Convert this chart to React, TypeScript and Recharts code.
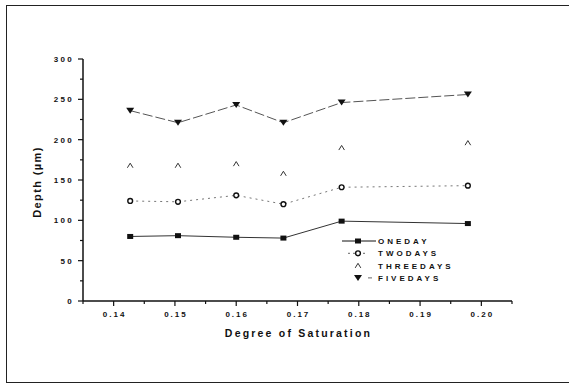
import { LineChart, Line, XAxis, YAxis } from "recharts";

// values
const saturation = [0.1427, 0.1505, 0.16, 0.1677, 0.1772, 0.1978];
const oneDay = [80, 81, 79, 78, 99, 96];
const twoDays = [124, 123, 131, 120, 141, 143];
const threeDays = [168, 168, 170, 158, 190, 196];
const fiveDays = [236, 221, 243, 221, 246, 256];

const xTicks = [0.135, 0.14, 0.145, 0.15, 0.155, 0.16, 0.165, 0.17, 0.175, 0.18, 0.185, 0.19, 0.195, 0.2, 0.205];
const yTicks = [0, 25, 50, 75, 100, 125, 150, 175, 200, 225, 250, 275, 300];

const seriesNames = ["ONEDAY", "TWODAYS", "THREEDAYS", "FIVEDAYS"];

const data = saturation.map((s, i) => ({
  s,
  oneDay: oneDay[i],
  twoDays: twoDays[i],
  threeDays: threeDays[i],
  fiveDays: fiveDays[i],
}));

const FONT = "'Liberation Sans', Arial, sans-serif";
const INK = "#111";

const Marker = ({ kind, cx, cy }: { kind: number; cx: number; cy: number }) => {
  if (kind === 0) return <rect x={cx - 3} y={cy - 2.5} width={6} height={5} fill={INK} />;
  if (kind === 1)
    return <circle cx={cx} cy={cy} r={2.4} fill="#fff" stroke={INK} strokeWidth={1.4} />;
  if (kind === 2)
    return (
      <polyline
        points={`${cx - 2.8},${cy + 2.3} ${cx},${cy - 2.3} ${cx + 2.8},${cy + 2.3}`}
        fill="none"
        stroke="#333"
        strokeWidth={1}
      />
    );
  return <polygon points={`${cx - 4},${cy - 3} ${cx + 4},${cy - 3} ${cx},${cy + 3}`} fill={INK} />;
};

const dotFor = (kind: number) => (p: any) =>
  <Marker key={`${kind}-${p.index}`} kind={kind} cx={p.cx} cy={p.cy} />;

const XTick = ({ x, y, payload }: any) => {
  const v = payload.value as number;
  const major = Math.abs(v * 100 - Math.round(v * 100)) < 1e-6;
  return (
    <g>
      <line x1={x} x2={x} y1={y} y2={y + (major ? 5 : 3)} stroke={INK} strokeWidth={1.2} />
      {major && (
        <text x={x + 1} y={y + 16} textAnchor="middle" fontSize={8} fontWeight="bold" fill={INK} fontFamily={FONT} letterSpacing={2}>
          {v.toFixed(2)}
        </text>
      )}
    </g>
  );
};

const YTick = ({ x, y, payload }: any) => {
  const v = payload.value as number;
  const major = v % 50 === 0;
  return (
    <g>
      <line x1={x - (major ? 5 : 3)} x2={x} y1={y} y2={y} stroke={INK} strokeWidth={1.2} />
      {major && (
        <text x={x - 9} y={y + 3} textAnchor="end" fontSize={8} fontWeight="bold" fill={INK} fontFamily={FONT} letterSpacing={2.3}>
          {v}
        </text>
      )}
    </g>
  );
};

const LegendBox = () => (
  <svg width={130} height={50} style={{ display: "block" }}>
    {seriesNames.map((name, i) => {
      const cy = 6 + i * 12.3;
      return (
        <g key={name}>
          {i === 0 && <line x1={2} x2={36} y1={cy} y2={cy} stroke={INK} strokeWidth={1} />}
          {i === 1 && <line x1={8} x2={28} y1={cy} y2={cy} stroke="#666" strokeWidth={1} strokeDasharray="2 3" />}
          {i === 3 && <line x1={28} x2={32} y1={cy} y2={cy} stroke="#666" strokeWidth={1} />}
          <Marker kind={i} cx={18} cy={cy} />
          <text x={38} y={cy + 3} fontSize={8} fontWeight="bold" fill={INK} fontFamily={FONT} letterSpacing={3}>
            {name}
          </text>
        </g>
      );
    })}
  </svg>
);

export default function App() {
  return (
    <div style={{ position: "fixed", left: 0, top: 0, width: 569, height: 385, overflow: "hidden", background: "#fff" }}>
      <div
        style={{
          position: "absolute",
          left: 6,
          top: 5,
          width: 620,
          height: 376,
          borderTop: "1.5px solid #222",
          borderLeft: "1.5px solid #222",
          borderBottom: "1.5px solid #222",
        }}
      />
      <div style={{ position: "absolute", left: 0, top: 0 }}>
        <LineChart width={569} height={385} data={data} margin={{ top: 59, right: 57, bottom: 0, left: 0 }}>
          <XAxis
            dataKey="s"
            type="number"
            domain={[0.135, 0.205]}
            ticks={xTicks}
            interval={0}
            height={84}
            tickSize={0}
            tickMargin={0}
            tickLine={false}
            tick={<XTick />}
            axisLine={{ stroke: INK, strokeWidth: 1.5 }}
            label={{
              content: ({ viewBox }: any) => (
                <text
                  x={viewBox.x + viewBox.width / 2 + 1}
                  y={viewBox.y + 36}
                  textAnchor="middle"
                  fontSize={10.5}
                  fontWeight="bold"
                  fill={INK}
                  fontFamily={FONT}
                  letterSpacing={2.2}
                >
                  Degree of Saturation
                </text>
              ),
            }}
          />
          <YAxis
            type="number"
            domain={[0, 300]}
            ticks={yTicks}
            interval={0}
            width={83}
            tickSize={0}
            tickMargin={0}
            tickLine={false}
            tick={<YTick />}
            axisLine={{ stroke: INK, strokeWidth: 1.5 }}
            label={{
              content: ({ viewBox }: any) => {
                const cx = viewBox.x + 37;
                const cy = viewBox.y + viewBox.height / 2 + 2;
                return (
                  <text
                    x={cx}
                    y={cy}
                    transform={`rotate(-90 ${cx} ${cy})`}
                    textAnchor="middle"
                    dominantBaseline="central"
                    fontSize={11}
                    fontWeight="bold"
                    fill={INK}
                    fontFamily={FONT}
                    letterSpacing={1.4}
                  >
                    Depth (µm)
                  </text>
                );
              },
            }}
          />
          <Line dataKey="oneDay" name="ONEDAY" stroke="#333" strokeWidth={1} dot={dotFor(0)} isAnimationActive={false} />
          <Line dataKey="twoDays" name="TWODAYS" stroke="#777" strokeWidth={1} strokeDasharray="2 4" dot={dotFor(1)} isAnimationActive={false} />
          <Line dataKey="threeDays" name="THREEDAYS" stroke="none" dot={dotFor(2)} isAnimationActive={false} />
          <Line dataKey="fiveDays" name="FIVEDAYS" stroke="#555" strokeWidth={1} strokeDasharray="10 3" dot={dotFor(3)} isAnimationActive={false} />
        </LineChart>
      </div>
      <div style={{ position: "absolute", left: 340, top: 235 }}>
        <LegendBox />
      </div>
    </div>
  );
}
